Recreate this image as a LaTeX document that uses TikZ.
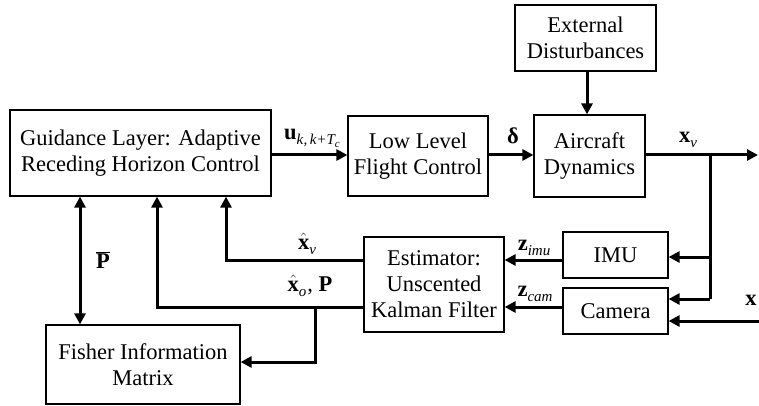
\documentclass[tikz,border=0pt]{standalone}
\usepackage{fontspec}
\setmainfont{Liberation Serif}
\usetikzlibrary{arrows.meta}
\newcommand\sbs[1]{\raisebox{-0.5ex}{\fontsize{15}{15}\selectfont\itshape #1}}
\newcommand\hatx{$\hat{\hbox{\bfseries x}}$}
\begin{document}
\begin{tikzpicture}[x=1pt,y=-1pt,
  blk/.style={draw,line width=1.2pt,align=center,inner sep=0pt,
    font=\fontsize{22.5}{26}\selectfont},
  sig/.style={line width=3pt,-{Triangle[length=11pt,width=11pt]}},
  sigb/.style={line width=3pt,{Triangle[length=11pt,width=11pt]}-{Triangle[length=11pt,width=11pt]}},
  lbl/.style={inner sep=0pt,font=\fontsize{22.5}{26}\selectfont}]
\useasboundingbox (0,0) rectangle (759,406);
% blocks
\node[blk,minimum width=261pt,minimum height=86pt] (guid) at (140.5,153) {Guidance Layer: Adaptive\\Receding Horizon Control};
\node[blk,minimum width=140pt,minimum height=80pt] (low) at (418,156) {Low Level\\Flight Control};
\node[blk,minimum width=111pt,minimum height=82pt] (air) at (589.5,156) {Aircraft\\Dynamics};
\node[blk,minimum width=141pt,minimum height=66pt] (ext) at (585.5,38) {External\\Disturbances};
\node[blk,minimum width=105pt,minimum height=46pt] (imu) at (615.5,255) {IMU};
\node[blk,minimum width=105pt,minimum height=46pt] (cam) at (615.5,311) {Camera};
\node[blk,minimum width=140pt,minimum height=95pt] (est) at (434,284.5) {Estimator:\\Unscented\\Kalman Filter};
\node[blk,minimum width=194pt,minimum height=79pt] (fis) at (143,364.5) {Fisher Information\\Matrix};
% coordinates
\coordinate (outR) at (758,155);
\coordinate (jn) at (710,155);
\coordinate (jb) at (710,299);
\coordinate (xin) at (759,321);
\coordinate (xvc) at (226,260);
\coordinate (xoc) at (157,307);
\coordinate (br) at (315,307);
\coordinate (brb) at (315,362);
% connectors
\draw[sig] (guid.east |- 0,155) -- (low.west |- 0,155);
\draw[sig] (low.east |- 0,155) -- (air.west |- 0,155);
\draw[sig] (ext.south -| 587,0) -- (air.north -| 587,0);
\draw[sig] (air.east |- 0,155) -- (outR);
\draw[line width=3pt] (jn) -- (jb);
\draw[sig] (jb) -- (cam.east |- jb);
\draw[sig] (710,257) -- (imu.east |- 0,257);
\draw[sig] (xin) -- (cam.east |- xin);
\draw[sig] (imu.west |- 0,260) -- (est.east |- 0,260);
\draw[sig] (cam.west |- 0,307) -- (est.east |- 0,307);
\draw[sig] (est.west |- xvc) -- (xvc) -- (guid.south -| xvc);
\draw[sig] (est.west |- xoc) -- (xoc) -- (guid.south -| xoc);
\draw[sig] (br) -- (brb) -- (fis.east |- brb);
\draw[sigb] (guid.south -| 80,0) -- (fis.north -| 80,0);
% labels
\node[lbl] (lu) at (312,138) {\textbf{u}\sbs{k\/,\,k+T\raisebox{-0.4ex}{\fontsize{11}{11}\selectfont c}}};
\node[lbl] (ld) at (513,136) {\textbf{δ}};
\node[lbl] (lxv) at (688,140) {\textbf{x}\sbs{v}};
\node[lbl] (lxh) at (307,244) {\hatx\sbs{v}};
\node[lbl] (lxo) at (310,286) {\hatx\sbs{o}\kern1pt, \textbf{P}};
\node[lbl] (lzi) at (534,248) {\textbf{z}\sbs{imu}};
\node[lbl] (lzc) at (535,294) {\textbf{z}\sbs{cam}};
\node[lbl] (lx) at (751,300) {\textbf{x}};
\node[lbl] (lp) at (103,260) {$\overline{\hbox{\bfseries P}}$};
\end{tikzpicture}
\end{document}
